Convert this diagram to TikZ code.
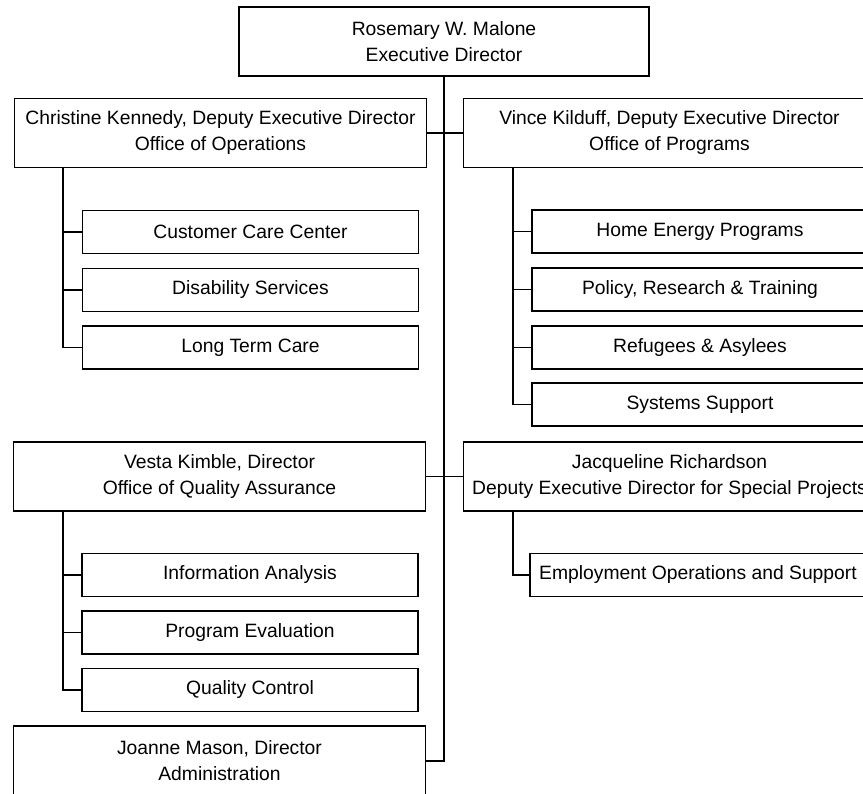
\documentclass[tikz,border=0pt]{standalone}
\usepackage{fontspec}
\setmainfont{Liberation Sans}
\begin{document}
\begin{tikzpicture}[x=1pt,y=-1pt,
  box/.style={draw=black, line width=1.8pt, rectangle, inner sep=0pt, align=center,
    font=\fontsize{19.3}{26}\selectfont, text=black},
  bigbox/.style={box, minimum width=412pt, minimum height=69pt},
  subbox/.style={box, minimum width=336pt, minimum height=43pt},
  link/.style={draw=black, line width=1.8pt}]
\useasboundingbox (0,0) rectangle (863,794);
\clip (0,0) rectangle (863,794);
\fill[white] (0,0) rectangle (863,794);

% top
\node[box, minimum width=410pt, minimum height=69pt] (top) at (444,41.5) {Rosemary W. Malone\\Executive Director};

% level 2
\node[bigbox] (chris) at (220.5,133) {Christine Kennedy, Deputy Executive Director\\Office of Operations};
\node[bigbox] (vince) at (669.5,133) {Vince Kilduff, Deputy Executive Director\\Office of Programs};
\node[bigbox] (vesta) at (219.5,476.5) {Vesta Kimble, Director\\Office of Quality Assurance};
\node[bigbox] (jacq) at (669.5,476.5) {Jacqueline Richardson\\Deputy Executive Director for Special Projects};
\node[bigbox, minimum height=70pt] (joanne) at (219.5,761) {Joanne Mason, Director\\Administration};

% left subs (operations)
\node[subbox] (ccc) at (250.5,232) {Customer Care Center};
\node[subbox] (dis) at (250.5,290) {Disability Services};
\node[subbox] (ltc) at (250.5,347.5) {Long Term Care};

% right subs (programs)
\node[subbox] (hep) at (700,231.5) {Home Energy Programs};
\node[subbox] (prt) at (700,289.5) {Policy, Research \& Training};
\node[subbox] (ref) at (700,347.5) {Refugees \& Asylees};
\node[subbox] (sys) at (700,404.5) {Systems Support};

% quality assurance subs
\node[subbox] (ia) at (250,575) {Information Analysis};
\node[subbox] (pe) at (250,632.5) {Program Evaluation};
\node[subbox] (qc) at (250,690) {Quality Control};

% special projects sub
\node[subbox] (eos) at (698,575) {Employment Operations and Support};

% trunk
\coordinate (tj) at (top.south |- joanne.east);
\draw[link] (top.south) -- (tj) -- (joanne.east);
\draw[link] (chris.east) -- (vince.west);
\draw[link] (vesta.east) -- (jacq.west);

% branch points
\coordinate (cb) at ([xshift=49pt]chris.south west);
\coordinate (vb) at ([xshift=50pt]vince.south west);
\coordinate (qb) at ([xshift=50pt]vesta.south west);
\coordinate (jb) at ([xshift=50pt]jacq.south west);

\draw[link] (cb) |- (ccc.west);
\draw[link] (cb) |- (dis.west);
\draw[link] (cb) |- (ltc.west);

\draw[link] (vb) |- (hep.west);
\draw[link] (vb) |- (prt.west);
\draw[link] (vb) |- (ref.west);
\draw[link] (vb) |- (sys.west);

\draw[link] (qb) |- (ia.west);
\draw[link] (qb) |- (pe.west);
\draw[link] (qb) |- (qc.west);

\draw[link] (jb) |- (eos.west);
\end{tikzpicture}
\end{document}
